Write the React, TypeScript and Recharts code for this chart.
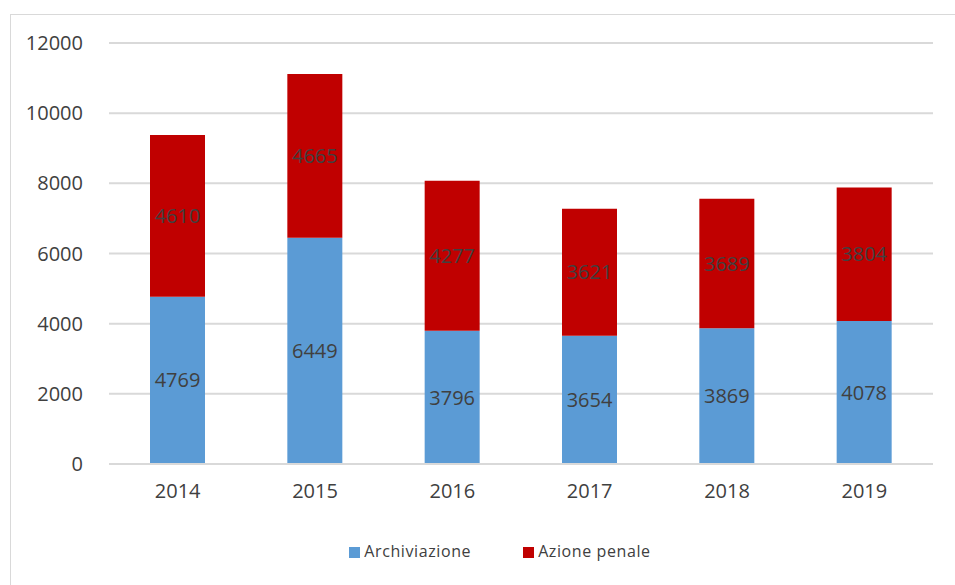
import { Bar, BarChart, CartesianGrid, LabelList, Legend, XAxis, YAxis } from "recharts";

const years = ["2014", "2015", "2016", "2017", "2018", "2019"];
const archiviazione = [4769, 6449, 3796, 3654, 3869, 4078];
const azionePenale = [4610, 4665, 4277, 3621, 3689, 3804];
const yTicks = [0, 2000, 4000, 6000, 8000, 10000, 12000];

const data = years.map((year, i) => ({
  year,
  archiviazione: archiviazione[i],
  azionePenale: azionePenale[i],
}));

const FONT = "'Open Sans', 'Liberation Sans', sans-serif";
const INK = "#404040";

export default function App() {
  return (
    <div
      style={{
        position: "absolute",
        top: 0,
        left: 0,
        width: 955,
        height: 585,
        background: "#fff",
        fontFamily: FONT,
      }}
    >
      <div
        style={{
          position: "absolute",
          left: 10,
          top: 14,
          width: 960,
          height: 600,
          border: "1px solid #d9d9d9",
        }}
      />
      <BarChart
        width={955}
        height={585}
        data={data}
        margin={{ top: 43, right: 22, bottom: 10, left: 0 }}
        barSize={55}
      >
        <CartesianGrid vertical={false} stroke="#d9d9d9" strokeWidth={2} />
        <XAxis
          dataKey="year"
          axisLine={{ stroke: "#d9d9d9", strokeWidth: 2 }}
          tickLine={false}
          tick={{ fill: INK, fontSize: 20, fontFamily: FONT }}
          tickMargin={14}
          height={66}
        />
        <YAxis
          domain={[0, 12000]}
          ticks={yTicks}
          axisLine={false}
          tickLine={false}
          tick={{ fill: INK, fontSize: 20, fontFamily: FONT }}
          tickMargin={20}
          width={109}
        />
        <Legend
          verticalAlign="bottom"
          iconType="square"
          iconSize={11}
          height={45}
          wrapperStyle={{ left: 345, width: 320, top: 540 }}
          formatter={(value: string) => (
            <span
              style={{
                color: INK,
                fontSize: 16,
                fontFamily: FONT,
                letterSpacing: 0.6,
                marginRight: value === "Archiviazione" ? 42 : 0,
              }}
            >
              {value}
            </span>
          )}
        />
        <Bar
          dataKey="archiviazione"
          name="Archiviazione"
          stackId="a"
          fill="#5b9bd5"
          isAnimationActive={false}
        >
          <LabelList
            dataKey="archiviazione"
            position="center"
            fill={INK}
            fontSize={20}
            fontFamily={FONT}
          />
        </Bar>
        <Bar
          dataKey="azionePenale"
          name="Azione penale"
          stackId="a"
          fill="#c00000"
          isAnimationActive={false}
        >
          <LabelList
            dataKey="azionePenale"
            position="center"
            fill={INK}
            fontSize={20}
            fontFamily={FONT}
          />
        </Bar>
      </BarChart>
    </div>
  );
}
